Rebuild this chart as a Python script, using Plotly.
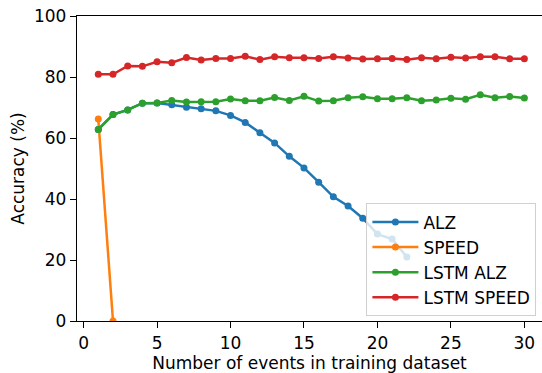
import plotly.graph_objects as go

# Accuracy (%) versus number of events used for training
events = list(range(1, 31))

alz_x = list(range(1, 23))
alz = [62.8, 67.7, 69.2, 71.4, 71.5, 70.9, 70.1, 69.6, 68.9, 67.4, 65.1,
       61.7, 58.4, 54.0, 50.2, 45.5, 40.7, 37.7, 33.7, 28.5, 26.9, 21.0]

speed_x = [1, 2]
speed = [66.2, 0.0]

lstm_alz = [62.8, 67.7, 69.2, 71.4, 71.5, 72.3, 71.8, 71.9, 71.9, 72.8,
            72.2, 72.2, 73.3, 72.3, 73.7, 72.1, 72.2, 73.2, 73.5, 72.9,
            72.9, 73.2, 72.2, 72.5, 73.0, 72.7, 74.2, 73.2, 73.6, 73.1]

lstm_speed = [80.9, 80.9, 83.6, 83.5, 85.0, 84.7, 86.4, 85.6, 86.1, 86.1,
              86.8, 85.7, 86.6, 86.3, 86.3, 86.1, 86.6, 86.2, 85.9, 86.0,
              86.1, 85.7, 86.3, 86.0, 86.5, 86.2, 86.6, 86.6, 86.0, 86.0]

x_ticks = [0, 5, 10, 15, 20, 25, 30]
y_ticks = [0, 20, 40, 60, 80, 100]

FONT = "DejaVu Sans"

series = [
    ("ALZ", alz_x, alz, "#1f77b4"),
    ("SPEED", speed_x, speed, "#ff7f0e"),
    ("LSTM ALZ", events, lstm_alz, "#2ca02c"),
    ("LSTM SPEED", events, lstm_speed, "#d62728"),
]

fig = go.Figure()
for name, xs, ys, color in series:
    fig.add_trace(go.Scatter(
        x=xs, y=ys, name=name, mode="lines+markers",
        line=dict(color=color, width=2.5),
        marker=dict(color=color, size=7),
    ))

fig.update_layout(
    width=542, height=373,
    margin=dict(l=77, r=0, t=16, b=52),
    paper_bgcolor="white", plot_bgcolor="white",
    font=dict(family=FONT, size=17, color="black"),
    showlegend=True,
    legend=dict(
        x=0.988, y=0.015, xanchor="right", yanchor="bottom",
        bgcolor="rgba(255,255,255,0.8)",
        bordercolor="#d0d0d0", borderwidth=1,
        font=dict(family=FONT, size=17, color="black"),
        itemwidth=46,
    ),
    xaxis=dict(
        range=[-0.45, 31.2],
        tickvals=x_ticks,
        showgrid=False, zeroline=False,
        showline=True, linecolor="black", linewidth=1.3, mirror=True,
        ticks="outside", ticklen=6, tickwidth=1.2, tickcolor="black",
        title=dict(text="Number of events in training dataset",
                   font=dict(family=FONT, size=17), standoff=3),
    ),
    yaxis=dict(
        range=[0, 100],
        tickvals=y_ticks,
        showgrid=False, zeroline=False,
        showline=True, linecolor="black", linewidth=1.3,
        ticks="outside", ticklen=6, tickwidth=1.2, tickcolor="black",
        title=dict(text="Accuracy (%)",
                   font=dict(family=FONT, size=17), standoff=5),
    ),
)

fig.write_html("out.html")
